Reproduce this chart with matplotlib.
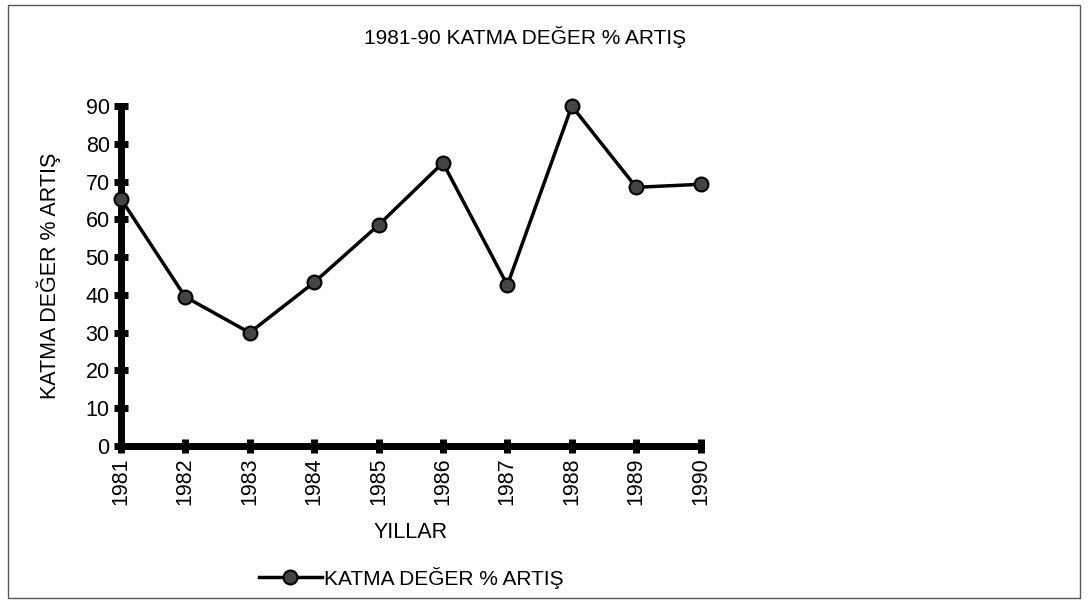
import matplotlib.pyplot as plt
from matplotlib.patches import Rectangle

years = ['1981', '1982', '1983', '1984', '1985', '1986', '1987', '1988', '1989', '1990']
artis = [65.5, 39.5, 30, 43.3, 58.5, 75, 42.6, 90, 68.5, 69.3]
yticks = [0, 10, 20, 30, 40, 50, 60, 70, 80, 90]

plt.rcParams['font.family'] = ['Liberation Sans', 'DejaVu Sans']

fig = plt.figure(figsize=(10.88, 6.03), dpi=100)
ax = fig.add_axes([0.111, 0.2604, 0.533, 0.5636])

x = range(len(years))
line, = ax.plot(x, artis, color='black', linewidth=2.5, marker='o', markersize=10,
                markerfacecolor='#444444', markeredgecolor='black', markeredgewidth=1.5,
                label='KATMA DEĞER % ARTIŞ', clip_on=False, zorder=5)

ax.set_xlim(0, len(years) - 1)
ax.set_ylim(0, 90)
ax.set_xticks(list(x))
ax.set_xticklabels(years, rotation=90, fontsize=15.5)
ax.set_yticks(yticks)
ax.set_yticklabels([str(v) for v in yticks], fontsize=15.5)
ax.tick_params(axis='both', direction='inout', length=10, width=5, pad=3)

for s in ['top', 'right']:
    ax.spines[s].set_visible(False)
for s in ['left', 'bottom']:
    ax.spines[s].set_linewidth(5)
ax.patch.set_visible(False)

ax.set_xlabel('YILLAR', fontsize=15.5, labelpad=12)
ax.set_ylabel('KATMA DEĞER % ARTIŞ', fontsize=15.5, labelpad=18)
fig.text(0.483, 0.938, '1981-90 KATMA DEĞER % ARTIŞ', ha='center', va='center', fontsize=15)

fig.legend(handles=[line], loc='center', bbox_to_anchor=(0.378, 0.042), frameon=False,
           fontsize=15, handlelength=3, handletextpad=0.1)

fig.patches.append(Rectangle((0.007, 0.008), 0.986, 0.984, transform=fig.transFigure,
                             fill=False, edgecolor='#555555', linewidth=1))

fig.savefig('out.png', dpi=100)
